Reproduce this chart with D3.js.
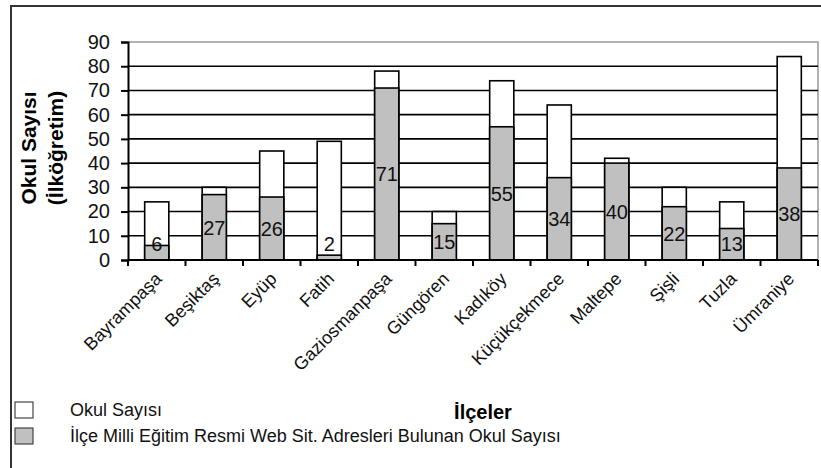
<!DOCTYPE html>
<html>
<head>
<meta charset="utf-8">
<script src="https://cdn.jsdelivr.net/npm/d3@7"></script>
<style>
html,body{margin:0;padding:0;background:#fff;}
svg{display:block;font-family:"Liberation Sans",Arial,sans-serif;}
</style>
</head>
<body>
<svg id="chart" width="821" height="468"></svg>
<script>
const categories = ["Bayrampaşa","Beşiktaş","Eyüp","Fatih","Gaziosmanpaşa","Güngören","Kadıköy","Küçükçekmece","Maltepe","Şişli","Tuzla","Ümraniye"];
const totalSchools = [24,30,45,49,78,20,74,64,42,30,24,84];
const webSchools = [6,27,26,2,71,15,55,34,40,22,13,38];
const yTicks = [0,10,20,30,40,50,60,70,80,90];
const seriesNames = ["Okul Sayısı","İlçe Milli Eğitim Resmi Web Sit. Adresleri Bulunan Okul Sayısı"];
const seriesColors = ["#ffffff","#c0c0c0"];
const yTitle = ["Okul Sayısı","(İlköğretim)"];
const xTitle = "İlçeler";

const svg = d3.select("#chart");
const L = 128, R = 818, T = 42, B = 260;

// outer frame
svg.append("path").attr("d","M11,468 L11,6 L821,6").attr("fill","none").attr("stroke","#333").attr("stroke-width",2);

const x = d3.scaleBand().domain(categories).range([L,R]).paddingInner(0.58).paddingOuter(0.29);
const y = d3.scaleLinear().domain([0,90]).range([B,T]);

// plot area border (gray)
svg.append("path").attr("d",`M${L},${T} L${R},${T} L${R},${B}`).attr("fill","none").attr("stroke","#999").attr("stroke-width",1.5);

// gridlines
svg.append("g").selectAll("line").data(yTicks.filter(d=>d>0&&d<90)).join("line")
  .attr("x1",L).attr("x2",R).attr("y1",d=>y(d)).attr("y2",d=>y(d))
  .attr("stroke","#000").attr("stroke-width",1.6);

// bars
const data = categories.map((c,i)=>({c, t: totalSchools[i], w: webSchools[i]}));
svg.append("g").selectAll("rect").data(data).join("rect")
  .attr("x",d=>x(d.c)).attr("width",x.bandwidth())
  .attr("y",d=>y(d.t)).attr("height",d=>y(0)-y(d.t))
  .attr("fill",seriesColors[0]).attr("stroke","#000").attr("stroke-width",1.6);
svg.append("g").selectAll("rect").data(data).join("rect")
  .attr("x",d=>x(d.c)).attr("width",x.bandwidth())
  .attr("y",d=>y(d.w)).attr("height",d=>y(0)-y(d.w))
  .attr("fill",seriesColors[1]).attr("stroke","#000").attr("stroke-width",1.6);

// value labels
svg.append("g").selectAll("text").data(data).join("text")
  .attr("x",d=>x(d.c)+x.bandwidth()/2)
  .attr("y",d=>Math.min((y(d.w)+y(0))/2, 244))
  .attr("dy","0.36em").attr("text-anchor","middle")
  .attr("font-size",20).attr("fill","#111").text(d=>d.w);

// y axis
const yAxis = svg.append("g").attr("transform",`translate(${L},0)`)
  .call(d3.axisLeft(y).tickValues(yTicks).tickSize(7).tickPadding(11));
yAxis.select(".domain").attr("stroke","#000").attr("stroke-width",2);
yAxis.selectAll(".tick line").attr("stroke","#000").attr("stroke-width",2);
yAxis.selectAll(".tick text").attr("font-size",20).attr("fill","#111").attr("font-family","Liberation Sans, Arial, sans-serif");

// x axis
const xAxisG = svg.append("g").attr("transform",`translate(0,${B})`);
xAxisG.append("line").attr("x1",L).attr("x2",R).attr("stroke","#000").attr("stroke-width",2);
const bounds = categories.map(c=>x(c)-x.step()*x.paddingInner()/2).concat([R]);
xAxisG.selectAll("line.tk").data(bounds).join("line").attr("class","tk")
  .attr("x1",d=>d).attr("x2",d=>d).attr("y1",0).attr("y2",6).attr("stroke","#000").attr("stroke-width",2);
xAxisG.selectAll("text").data(categories).join("text")
  .attr("transform",c=>`translate(${x(c)+x.bandwidth()/2+6},20) rotate(-45)`)
  .attr("text-anchor","end").attr("font-size",18).attr("fill","#111").text(c=>c);

// y title
const yt = svg.append("text").attr("transform","translate(36,148) rotate(-90)")
  .attr("text-anchor","middle").attr("font-size",21).attr("font-weight","bold").attr("fill","#000");
yt.append("tspan").attr("x",0).attr("dy",0).text(yTitle[0]);
yt.append("tspan").attr("x",0).attr("dy",27).text(yTitle[1]);

// x title
svg.append("text").attr("x",483).attr("y",419).attr("text-anchor","middle")
  .attr("font-size",20).attr("font-weight","bold").attr("fill","#000").text(xTitle);

// legend
const lg = svg.append("g");
seriesNames.forEach((n,i)=>{
  const yy = 402 + i*26;
  lg.append("rect").attr("x",15).attr("y",yy).attr("width",18).attr("height",16)
    .attr("fill",seriesColors[i]).attr("stroke","#444").attr("stroke-width",1.2);
  lg.append("text").attr("x",70).attr("y",yy+8).attr("dy","0.36em").attr("font-size",18).attr("fill","#111").text(n);
});
</script>
</body>
</html>
